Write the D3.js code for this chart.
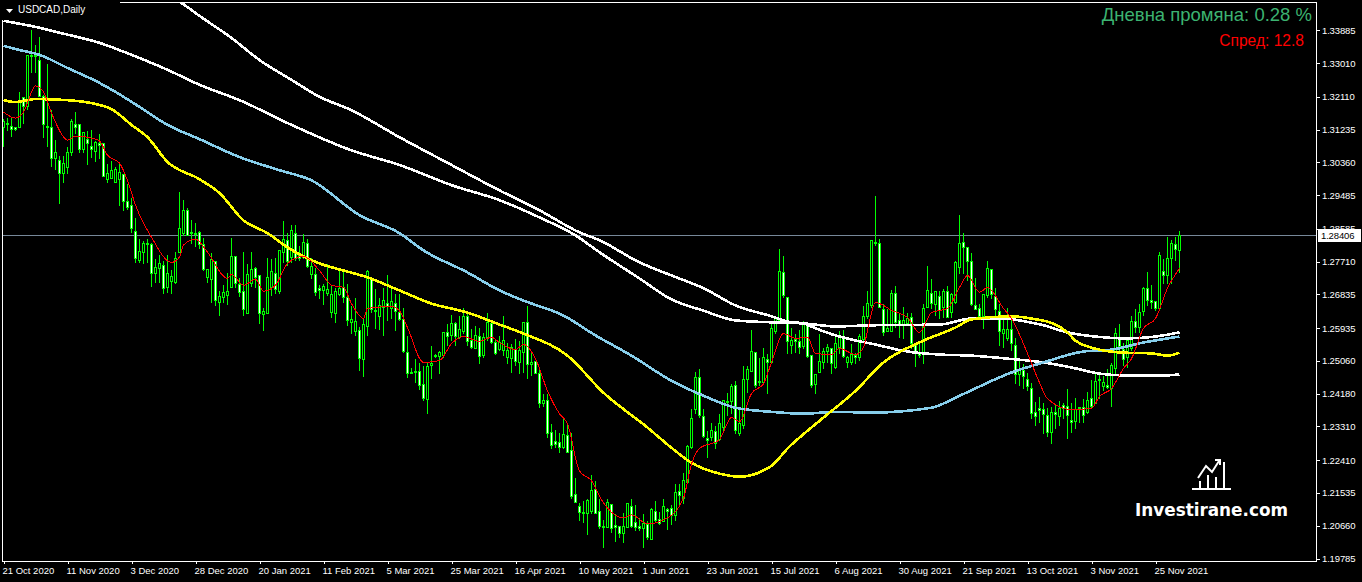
<!DOCTYPE html>
<html>
<head>
<meta charset="utf-8">
<script src="https://cdn.jsdelivr.net/npm/d3@7"></script>
<style>
  html, body { margin: 0; background: #000; overflow: hidden; }
  svg { display: block; font-family: "Liberation Sans", Arial, sans-serif; }
</style>
</head>
<body>
<svg id="chart" width="1362" height="582"></svg>
<script>
// USDCAD daily candles, one entry per bar
const highs = [
  1.3154,1.3156,1.3156,1.3130,1.3226,1.3213,1.3320,1.3390,1.3350,1.3371,
  1.3216,1.3301,1.3178,1.3098,1.3053,1.3053,1.3079,1.3152,1.3173,1.3138,
  1.3117,1.3122,1.3125,1.3095,1.3114,1.3090,1.3034,1.3042,1.3026,1.3034,
  1.3004,1.2980,1.2943,1.2889,1.2833,1.2828,1.2833,1.2823,1.2780,1.2791,
  1.2774,1.2791,1.2750,1.2798,1.2959,1.2938,1.2916,1.2884,1.2876,1.2854,
  1.2836,1.2753,1.2796,1.2774,1.2694,1.2710,1.2742,1.2836,1.2788,1.2729,
  1.2798,1.2766,1.2798,1.2758,1.2734,1.2649,1.2782,1.2780,1.2782,1.2801,
  1.2881,1.2849,1.2871,1.2871,1.2815,1.2847,1.2833,1.2782,1.2755,1.2710,
  1.2713,1.2766,1.2707,1.2702,1.2747,1.2747,1.2713,1.2654,1.2675,1.2598,
  1.2619,1.2750,1.2726,1.2699,1.2675,1.2702,1.2737,1.2699,1.2686,1.2686,
  1.2649,1.2574,1.2488,1.2512,1.2502,1.2494,1.2502,1.2547,1.2526,1.2533,
  1.2582,1.2606,1.2630,1.2611,1.2627,1.2649,1.2633,1.2593,1.2601,1.2595,
  1.2582,1.2635,1.2611,1.2566,1.2574,1.2627,1.2555,1.2552,1.2566,1.2560,
  1.2609,1.2654,1.2533,1.2504,1.2488,1.2419,1.2419,1.2338,1.2322,1.2314,
  1.2352,1.2338,1.2314,1.2194,1.2127,1.2132,1.2140,1.2202,1.2186,1.2140,
  1.2082,1.2140,1.2125,1.2098,1.2066,1.2100,1.2127,1.2140,1.2122,1.2087,
  1.2098,1.2079,1.2114,1.2132,1.2105,1.2140,1.2114,1.2122,1.2178,1.2178,
  1.2207,1.2282,1.2379,1.2478,1.2486,1.2379,1.2319,1.2341,1.2333,1.2365,
  1.2400,1.2421,1.2445,1.2453,1.2381,1.2494,1.2494,1.2590,1.2528,1.2515,
  1.2542,1.2526,1.2606,1.2625,1.2807,1.2788,1.2675,1.2595,1.2579,1.2590,
  1.2614,1.2606,1.2523,1.2472,1.2579,1.2542,1.2552,1.2542,1.2574,1.2587,
  1.2590,1.2520,1.2552,1.2528,1.2579,1.2654,1.2694,1.2831,1.2948,1.2833,
  1.2659,1.2646,1.2697,1.2707,1.2635,1.2651,1.2635,1.2635,1.2555,1.2555,
  1.2659,1.2761,1.2726,1.2694,1.2694,1.2699,1.2707,1.2689,1.2774,1.2898,
  1.2849,1.2809,1.2796,1.2729,1.2659,1.2686,1.2774,1.2753,1.2702,1.2659,
  1.2619,1.2649,1.2627,1.2569,1.2512,1.2499,1.2475,1.2448,1.2397,1.2411,
  1.2395,1.2381,1.2384,1.2392,1.2400,1.2395,1.2432,1.2395,1.2408,1.2384,
  1.2405,1.2424,1.2456,1.2478,1.2472,1.2467,1.2486,1.2502,1.2595,1.2606,
  1.2555,1.2566,1.2627,1.2646,1.2659,1.2705,1.2745,1.2710,1.2667,1.2798,
  1.2780,1.2839,1.2831,1.2839,1.2854
];
const lows = [
  1.3079,1.3122,1.3106,1.3122,1.3128,1.3141,1.3178,1.3277,1.3275,1.3213,
  1.3103,1.3077,1.3026,1.3018,1.2927,1.2983,1.3007,1.3053,1.3114,1.3063,
  1.3061,1.3031,1.3050,1.3037,1.3047,1.2997,1.2983,1.2994,1.2983,1.2922,
  1.2908,1.2911,1.2849,1.2769,1.2769,1.2766,1.2769,1.2705,1.2716,1.2716,
  1.2686,1.2689,1.2686,1.2713,1.2796,1.2841,1.2841,1.2820,1.2812,1.2806,
  1.2747,1.2716,1.2662,1.2654,1.2627,1.2662,1.2657,1.2702,1.2702,1.2678,
  1.2627,1.2633,1.2705,1.2702,1.2606,1.2587,1.2633,1.2681,1.2686,1.2686,
  1.2769,1.2761,1.2769,1.2774,1.2774,1.2780,1.2755,1.2726,1.2681,1.2673,
  1.2657,1.2681,1.2622,1.2609,1.2681,1.2662,1.2601,1.2579,1.2574,1.2480,
  1.2464,1.2574,1.2635,1.2593,1.2590,1.2574,1.2614,1.2619,1.2587,1.2614,
  1.2528,1.2461,1.2472,1.2448,1.2429,1.2400,1.2365,1.2459,1.2515,1.2472,
  1.2515,1.2547,1.2560,1.2547,1.2566,1.2579,1.2547,1.2539,1.2539,1.2499,
  1.2515,1.2560,1.2552,1.2523,1.2533,1.2520,1.2499,1.2475,1.2494,1.2472,
  1.2475,1.2459,1.2467,1.2472,1.2381,1.2384,1.2301,1.2272,1.2274,1.2261,
  1.2272,1.2261,1.2138,1.2127,1.2079,1.2074,1.2042,1.2098,1.2098,1.2058,
  1.2009,1.2060,1.2047,1.2023,1.2034,1.2020,1.2060,1.2060,1.2052,1.2052,
  1.2007,1.2028,1.2028,1.2074,1.2068,1.2076,1.2055,1.2068,1.2079,1.2119,
  1.2125,1.2178,1.2272,1.2365,1.2355,1.2301,1.2247,1.2293,1.2272,1.2293,
  1.2319,1.2360,1.2365,1.2312,1.2306,1.2325,1.2421,1.2478,1.2435,1.2440,
  1.2445,1.2419,1.2499,1.2579,1.2614,1.2675,1.2526,1.2526,1.2528,1.2526,
  1.2539,1.2515,1.2435,1.2419,1.2475,1.2486,1.2502,1.2472,1.2486,1.2526,
  1.2515,1.2488,1.2496,1.2499,1.2507,1.2560,1.2619,1.2649,1.2815,1.2649,
  1.2574,1.2585,1.2585,1.2595,1.2569,1.2566,1.2606,1.2539,1.2491,1.2515,
  1.2499,1.2649,1.2646,1.2627,1.2619,1.2622,1.2622,1.2622,1.2659,1.2740,
  1.2740,1.2721,1.2654,1.2643,1.2622,1.2593,1.2675,1.2673,1.2627,1.2547,
  1.2542,1.2560,1.2533,1.2445,1.2440,1.2432,1.2426,1.2352,1.2333,1.2341,
  1.2312,1.2304,1.2285,1.2325,1.2333,1.2352,1.2298,1.2314,1.2325,1.2341,
  1.2341,1.2365,1.2379,1.2392,1.2405,1.2426,1.2432,1.2384,1.2472,1.2528,
  1.2494,1.2488,1.2533,1.2582,1.2582,1.2627,1.2654,1.2646,1.2640,1.2643,
  1.2713,1.2713,1.2713,1.2774,1.2742
];
const opens = [
  1.3128,1.3141,1.3133,1.3130,1.3128,1.3210,1.3184,1.3320,1.3320,1.3309,
  1.3213,1.3133,1.3128,1.3045,1.3042,1.3007,1.3021,1.3061,1.3138,1.3138,
  1.3071,1.3098,1.3077,1.3066,1.3085,1.3085,1.2991,1.2994,1.2983,1.2991,
  1.3004,1.2932,1.2922,1.2852,1.2774,1.2796,1.2820,1.2817,1.2740,1.2753,
  1.2761,1.2702,1.2718,1.2716,1.2796,1.2847,1.2908,1.2849,1.2847,1.2849,
  1.2817,1.2729,1.2724,1.2772,1.2662,1.2675,1.2681,1.2702,1.2785,1.2710,
  1.2692,1.2633,1.2713,1.2753,1.2734,1.2630,1.2633,1.2702,1.2740,1.2692,
  1.2796,1.2828,1.2782,1.2847,1.2788,1.2782,1.2820,1.2737,1.2737,1.2699,
  1.2694,1.2686,1.2635,1.2633,1.2684,1.2702,1.2675,1.2609,1.2585,1.2587,
  1.2510,1.2598,1.2724,1.2640,1.2625,1.2649,1.2659,1.2646,1.2659,1.2635,
  1.2617,1.2528,1.2475,1.2478,1.2478,1.2443,1.2403,1.2494,1.2520,1.2518,
  1.2520,1.2582,1.2574,1.2606,1.2569,1.2585,1.2625,1.2560,1.2539,1.2571,
  1.2520,1.2569,1.2606,1.2555,1.2536,1.2533,1.2515,1.2512,1.2536,1.2502,
  1.2528,1.2609,1.2496,1.2504,1.2472,1.2392,1.2400,1.2314,1.2290,1.2288,
  1.2274,1.2306,1.2266,1.2149,1.2116,1.2100,1.2098,1.2103,1.2162,1.2105,
  1.2063,1.2060,1.2122,1.2066,1.2063,1.2044,1.2060,1.2116,1.2074,1.2063,
  1.2058,1.2068,1.2028,1.2105,1.2082,1.2076,1.2108,1.2111,1.2092,1.2157,
  1.2140,1.2181,1.2274,1.2376,1.2462,1.2357,1.2298,1.2301,1.2317,1.2296,
  1.2328,1.2397,1.2397,1.2440,1.2312,1.2333,1.2456,1.2478,1.2528,1.2451,
  1.2448,1.2510,1.2502,1.2585,1.2614,1.2742,1.2675,1.2547,1.2563,1.2558,
  1.2545,1.2601,1.2520,1.2443,1.2475,1.2502,1.2531,1.2539,1.2488,1.2542,
  1.2571,1.2502,1.2502,1.2520,1.2515,1.2563,1.2625,1.2654,1.2823,1.2820,
  1.2643,1.2585,1.2585,1.2686,1.2614,1.2603,1.2606,1.2622,1.2547,1.2526,
  1.2526,1.2649,1.2686,1.2657,1.2678,1.2649,1.2692,1.2635,1.2662,1.2755,
  1.2823,1.2809,1.2772,1.2654,1.2646,1.2625,1.2681,1.2750,1.2678,1.2638,
  1.2579,1.2566,1.2590,1.2547,1.2470,1.2480,1.2456,1.2432,1.2368,1.2379,
  1.2376,1.2360,1.2314,1.2368,1.2357,1.2387,1.2384,1.2346,1.2344,1.2381,
  1.2381,1.2368,1.2405,1.2392,1.2456,1.2437,1.2440,1.2432,1.2486,1.2566,
  1.2536,1.2515,1.2539,1.2611,1.2595,1.2638,1.2700,1.2667,1.2665,1.2646,
  1.2745,1.2734,1.2780,1.2817,1.2801
];
const closes = [
  1.3144,1.3136,1.3125,1.3125,1.3202,1.3184,1.3320,1.3318,1.3318,1.3213,
  1.3136,1.3130,1.3045,1.3063,1.3007,1.3034,1.3063,1.3144,1.3128,1.3071,
  1.3117,1.3087,1.3071,1.3090,1.3082,1.2997,1.3007,1.3015,1.3018,1.3010,
  1.2932,1.2916,1.2860,1.2780,1.2798,1.2820,1.2817,1.2740,1.2755,1.2766,
  1.2700,1.2740,1.2732,1.2780,1.2860,1.2908,1.2841,1.2847,1.2844,1.2817,
  1.2750,1.2750,1.2777,1.2667,1.2678,1.2689,1.2692,1.2785,1.2713,1.2689,
  1.2643,1.2737,1.2750,1.2729,1.2633,1.2638,1.2729,1.2745,1.2697,1.2801,
  1.2831,1.2772,1.2854,1.2780,1.2780,1.2823,1.2758,1.2758,1.2689,1.2694,
  1.2705,1.2697,1.2684,1.2692,1.2699,1.2675,1.2614,1.2617,1.2611,1.2512,
  1.2603,1.2745,1.2643,1.2638,1.2654,1.2667,1.2651,1.2665,1.2638,1.2617,
  1.2531,1.2472,1.2472,1.2475,1.2440,1.2405,1.2491,1.2499,1.2518,1.2528,
  1.2582,1.2571,1.2606,1.2571,1.2590,1.2625,1.2558,1.2542,1.2574,1.2518,
  1.2569,1.2609,1.2555,1.2526,1.2555,1.2560,1.2533,1.2542,1.2504,1.2533,
  1.2609,1.2496,1.2502,1.2472,1.2392,1.2400,1.2312,1.2280,1.2282,1.2274,
  1.2309,1.2261,1.2143,1.2127,1.2100,1.2098,1.2132,1.2159,1.2098,1.2063,
  1.2060,1.2127,1.2058,1.2060,1.2044,1.2063,1.2125,1.2063,1.2060,1.2058,
  1.2071,1.2034,1.2108,1.2079,1.2071,1.2116,1.2103,1.2092,1.2154,1.2146,
  1.2186,1.2277,1.2352,1.2462,1.2360,1.2304,1.2293,1.2319,1.2285,1.2338,
  1.2400,1.2395,1.2437,1.2319,1.2338,1.2456,1.2483,1.2531,1.2440,1.2448,
  1.2515,1.2502,1.2593,1.2619,1.2745,1.2681,1.2558,1.2560,1.2558,1.2542,
  1.2606,1.2518,1.2440,1.2470,1.2504,1.2531,1.2542,1.2499,1.2552,1.2569,
  1.2518,1.2515,1.2523,1.2515,1.2571,1.2625,1.2659,1.2828,1.2820,1.2649,
  1.2582,1.2593,1.2686,1.2609,1.2603,1.2614,1.2619,1.2553,1.2526,1.2520,
  1.2646,1.2694,1.2659,1.2692,1.2640,1.2692,1.2622,1.2684,1.2769,1.2820,
  1.2809,1.2772,1.2657,1.2643,1.2625,1.2684,1.2753,1.2684,1.2643,1.2585,
  1.2590,1.2590,1.2553,1.2470,1.2480,1.2464,1.2437,1.2365,1.2357,1.2373,
  1.2362,1.2314,1.2368,1.2362,1.2379,1.2379,1.2360,1.2341,1.2376,1.2379,
  1.2360,1.2400,1.2384,1.2451,1.2453,1.2448,1.2435,1.2494,1.2579,1.2545,
  1.2510,1.2560,1.2611,1.2595,1.2635,1.2700,1.2667,1.2662,1.2646,1.2788,
  1.2734,1.2780,1.2820,1.2804,1.2840
];

const slowBars = [42,44,49,57,64,72,79,87,99,112,124,134,144,149,159,167,175,183,192,196,200,203,208,212,217,226,234,242,251,260,268,274,281,290,294];
const slowValues = [1.3478,1.3465,1.3427,1.3368,1.3309,1.3256,1.3211,1.3175,1.3103,1.3029,1.2961,1.2908,1.2849,1.2828,1.2769,1.2734,1.2700,1.2654,1.2625,1.2611,1.2606,1.2593,1.2574,1.2563,1.2552,1.2531,1.2523,1.2520,1.2512,1.2502,1.2486,1.2472,1.2467,1.2467,1.2470];

const whiteBars = [0,4,7,14,24,32,41,49,59,72,87,99,112,124,134,143,149,159,167,175,183,192,200,208,217,234,242,251,254,260,266,273,281,288,294];
const whiteValues = [1.3414,1.3406,1.3400,1.3382,1.3355,1.3323,1.3283,1.3243,1.3202,1.3136,1.3068,1.3029,1.2975,1.2935,1.2889,1.2841,1.2796,1.2726,1.2670,1.2640,1.2614,1.2609,1.2606,1.2598,1.2601,1.2603,1.2619,1.2619,1.2614,1.2601,1.2582,1.2571,1.2566,1.2571,1.2582];

const blueBars = [0,4,9,16,24,28,34,41,49,59,69,77,89,99,105,116,124,130,140,148,157,167,175,183,192,200,208,217,232,239,252,260,270,277,285,294];
const blueValues = [1.3347,1.3336,1.3323,1.3288,1.3248,1.3224,1.3184,1.3136,1.3098,1.3050,1.3015,1.2988,1.2895,1.2847,1.2801,1.2742,1.2694,1.2667,1.2627,1.2574,1.2520,1.2453,1.2413,1.2381,1.2370,1.2365,1.2370,1.2368,1.2381,1.2413,1.2475,1.2502,1.2531,1.2536,1.2555,1.2571];

const yellowBars = [0,3,8,16,22,27,32,36,41,49,54,60,66,71,79,83,91,99,107,116,124,130,141,150,161,167,172,179,184,192,196,204,213,220,230,238,242,252,257,263,266,268,274,280,287,291,294];
const yellowValues = [1.3202,1.3197,1.3205,1.3202,1.3194,1.3178,1.3136,1.3103,1.3037,1.2991,1.2954,1.2881,1.2847,1.2809,1.2766,1.2753,1.2729,1.2694,1.2659,1.2635,1.2603,1.2579,1.2520,1.2421,1.2328,1.2274,1.2234,1.2205,1.2197,1.2226,1.2272,1.2346,1.2426,1.2502,1.2560,1.2595,1.2617,1.2625,1.2619,1.2603,1.2582,1.2560,1.2536,1.2528,1.2526,1.2520,1.2528];

const redBars = [0,3,5,8,10,12,15,16,18,21,24,26,29,31,33,37,42,44,45,48,51,56,57,60,63,65,68,71,75,79,82,85,87,90,91,97,99,101,105,109,112,115,119,122,124,128,130,133,136,139,141,144,147,150,155,157,161,166,170,172,174,179,182,184,187,190,192,195,198,201,203,207,209,213,215,216,218,220,222,226,229,232,236,239,241,244,246,250,252,256,259,261,267,272,274,277,280,282,285,288,291,294];
const redValues = [1.3170,1.3154,1.3170,1.3240,1.3224,1.3168,1.3104,1.3095,1.3106,1.3103,1.3093,1.3055,1.3034,1.2988,1.2922,1.2836,1.2769,1.2783,1.2815,1.2831,1.2796,1.2726,1.2737,1.2708,1.2724,1.2692,1.2708,1.2766,1.2785,1.2747,1.2708,1.2702,1.2659,1.2619,1.2646,1.2651,1.2640,1.2595,1.2502,1.2507,1.2552,1.2571,1.2558,1.2569,1.2555,1.2536,1.2550,1.2512,1.2426,1.2365,1.2338,1.2212,1.2186,1.2127,1.2087,1.2095,1.2071,1.2087,1.2140,1.2231,1.2272,1.2296,1.2355,1.2344,1.2419,1.2445,1.2502,1.2579,1.2566,1.2569,1.2526,1.2523,1.2539,1.2523,1.2542,1.2587,1.2662,1.2654,1.2641,1.2622,1.2582,1.2635,1.2646,1.2702,1.2734,1.2689,1.2702,1.2646,1.2619,1.2526,1.2448,1.2405,1.2376,1.2379,1.2411,1.2432,1.2486,1.2512,1.2593,1.2619,1.2700,1.2753];

// axis labels
const priceTicks = [1.33885,1.33010,1.32110,1.31235,1.30360,1.29485,1.28585,1.27710,1.26835,1.25935,1.25060,1.24180,1.23310,1.22410,1.21535,1.20660,1.19785];
const dateLabels = ["21 Oct 2020","11 Nov 2020","3 Dec 2020","28 Dec 2020","20 Jan 2021","11 Feb 2021","5 Mar 2021","25 Mar 2021","16 Apr 2021","10 May 2021","1 Jun 2021","23 Jun 2021","15 Jul 2021","6 Aug 2021","30 Aug 2021","21 Sep 2021","13 Oct 2021","3 Nov 2021","25 Nov 2021"];
const dateBars = [0,16,32,48,64,80,96,112,128,144,160,176,192,208,224,240,256,272,288];
const lastPrice = 1.28406;

const plotLeft = 2, plotRight = 1316, plotTop = 2, plotBottom = 561;

const svg = d3.select("#chart");

const x = d3.scaleLinear().domain([0, 294]).range([3.5, 1179.5]);
const y = d3.scaleLinear().domain([1.19785, 1.33885]).range([558.5, 30.3]);
const snap = v => Math.round(y(v) - 0.5) + 0.5;

svg.append("clipPath").attr("id", "plot")
  .append("rect")
  .attr("x", plotLeft).attr("y", plotTop)
  .attr("width", plotRight - plotLeft).attr("height", plotBottom - plotTop);

const plot = svg.append("g").attr("clip-path", "url(#plot)");

// last price line sits behind the candles
plot.append("line")
  .attr("x1", plotLeft).attr("x2", plotRight)
  .attr("y1", snap(lastPrice)).attr("y2", snap(lastPrice))
  .attr("stroke", "#778899")
  .attr("shape-rendering", "crispEdges");

// candles: wick first, then the body (white fill = down day, black fill = up day)
const candle = plot.append("g").selectAll("g")
  .data(d3.range(highs.length))
  .enter().append("g");

candle.append("line")
  .attr("x1", i => x(i)).attr("x2", i => x(i))
  .attr("y1", i => snap(highs[i]))
  .attr("y2", i => snap(lows[i]))
  .attr("stroke", "#00ff00")
  .attr("shape-rendering", "crispEdges");

candle.append("rect")
  .attr("x", i => x(i) - 1)
  .attr("width", 2)
  .attr("y", i => snap(Math.max(opens[i], closes[i])))
  .attr("height", i => Math.max(snap(Math.min(opens[i], closes[i])) - snap(Math.max(opens[i], closes[i])), 1))
  .attr("fill", i => closes[i] < opens[i] ? "#ffffff" : "#000000")
  .attr("stroke", "#00ff00")
  .attr("shape-rendering", "crispEdges");

// moving averages
function drawAverage(bars, values, color, width) {
  const line = d3.line()
    .curve(d3.curveMonotoneX)
    .x((d, i) => x(bars[i]))
    .y(d => y(d));
  plot.append("path")
    .datum(values)
    .attr("fill", "none")
    .attr("stroke", color)
    .attr("stroke-width", width)
    .attr("shape-rendering", "crispEdges")
    .attr("d", line);
}
drawAverage(slowBars, slowValues, "#ffffff", 2.6);
drawAverage(whiteBars, whiteValues, "#ffffff", 2.6);
drawAverage(blueBars, blueValues, "#87ceeb", 2.6);
drawAverage(yellowBars, yellowValues, "#ffff00", 2.6);
drawAverage(redBars, redValues, "#ff0000", 1);

// frame, the top left corner is left open like the reference
svg.append("path")
  .attr("d", `M${plotLeft + 0.5},20 V${plotBottom + 0.5} H${plotRight + 0.5} V${plotTop + 0.5} H120`)
  .attr("fill", "none")
  .attr("stroke", "#ffffff")
  .attr("shape-rendering", "crispEdges");

// price axis
const yAxis = d3.axisRight(y)
  .tickValues(priceTicks)
  .tickFormat(d3.format(".5f"))
  .tickSize(3)
  .tickPadding(2);

const yAxisG = svg.append("g")
  .attr("transform", `translate(${plotRight + 1},0)`)
  .call(yAxis);
yAxisG.select(".domain").remove();
yAxisG.selectAll("line").attr("stroke", "#ffffff").attr("shape-rendering", "crispEdges");
yAxisG.selectAll("text")
  .attr("fill", "#ffffff")
  .attr("font-family", "Liberation Sans")
  .attr("font-size", 9.5)
  .attr("letter-spacing", -0.15);

// date axis
const xAxis = d3.axisBottom(x)
  .tickValues(dateBars)
  .tickFormat((d, i) => dateLabels[i])
  .tickSize(3)
  .tickPadding(3);

const xAxisG = svg.append("g")
  .attr("transform", `translate(0,${plotBottom})`)
  .call(xAxis);
xAxisG.select(".domain").remove();
xAxisG.selectAll("line").attr("stroke", "#ffffff").attr("shape-rendering", "crispEdges");
xAxisG.selectAll("text")
  .attr("fill", "#ffffff")
  .attr("font-family", "Liberation Sans")
  .attr("font-size", 9.5)
  .attr("text-anchor", "start")
  .attr("dx", -1.5);

// last price tag
svg.append("rect")
  .attr("x", plotRight + 2).attr("y", snap(lastPrice) - 6.5)
  .attr("width", 43).attr("height", 13)
  .attr("fill", "#ffffff");
svg.append("text")
  .attr("x", plotRight + 5).attr("y", snap(lastPrice) + 3.5)
  .attr("fill", "#000000")
  .attr("font-size", 9.5)
  .attr("letter-spacing", -0.15)
  .text(d3.format(".5f")(lastPrice));

// title with the little menu triangle
svg.append("path")
  .attr("d", "M6,9 L13,9 L9.5,13 Z")
  .attr("fill", "#ffffff");
svg.append("text")
  .attr("x", 18).attr("y", 13)
  .attr("fill", "#ffffff")
  .attr("font-size", 10)
  .text("USDCAD,Daily");

// top right info
svg.append("text")
  .attr("x", 1312).attr("y", 21)
  .attr("text-anchor", "end")
  .attr("fill", "#3cb371")
  .attr("font-size", 18.5)
  .text("Дневна промяна: 0.28 %");
svg.append("text")
  .attr("x", 1304).attr("y", 46)
  .attr("text-anchor", "end")
  .attr("fill", "#ff0000")
  .attr("font-size", 15.6)
  .text("Спред: 12.8");

// watermark
const logo = svg.append("g")
  .attr("stroke", "#ffffff")
  .attr("fill", "none")
  .attr("stroke-width", 2);
logo.append("path").attr("d", "M1192,489 H1231");
logo.append("path").attr("d", "M1200,489 V481 M1208,489 V475 M1216,489 V477 M1224,489 V462");
logo.append("path").attr("d", "M1198,478 L1206,466 L1212,472 L1219,461");
logo.append("path").attr("d", "M1215,460 L1220,460 L1220,465");
svg.append("text")
  .attr("x", 1135).attr("y", 516)
  .attr("fill", "#ffffff")
  .attr("font-family", "DejaVu Sans")
  .attr("font-weight", "bold")
  .attr("font-size", 18.5)
  .attr("textLength", 153)
  .attr("lengthAdjust", "spacingAndGlyphs")
  .text("Investirane.com");
</script>
</body>
</html>
